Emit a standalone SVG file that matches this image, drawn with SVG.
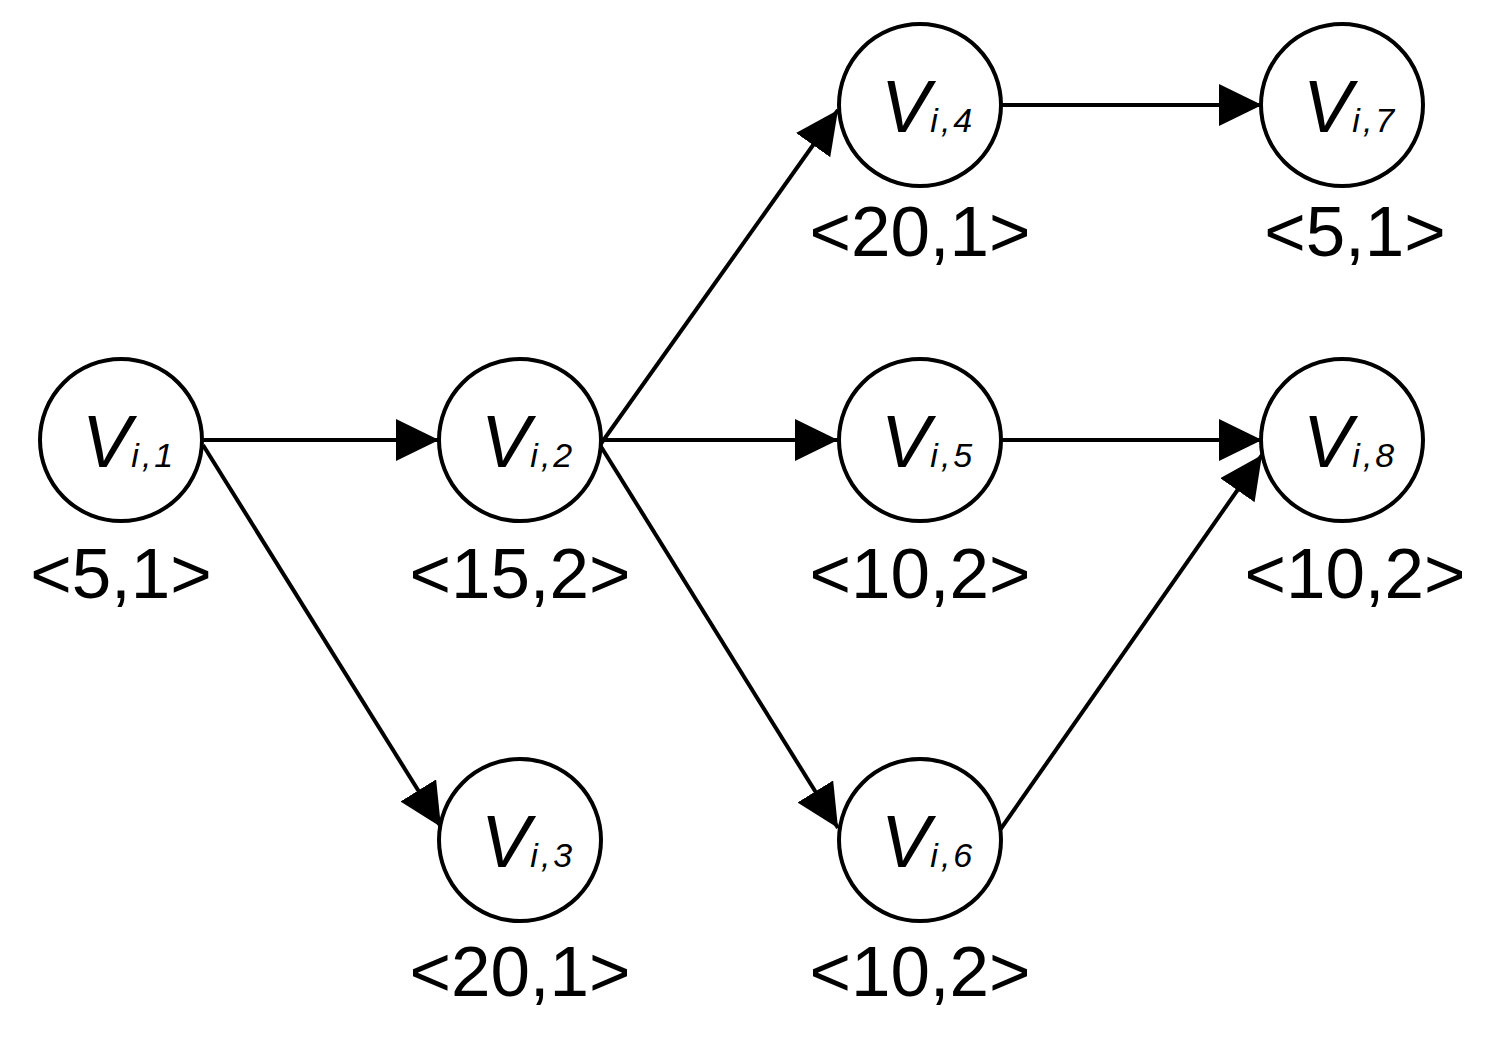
<svg xmlns="http://www.w3.org/2000/svg" width="1492" height="1049" viewBox="0 0 1492 1049">
<style>
circle{fill:#fff;stroke:#000;stroke-width:4}
.v{font-family:"Liberation Sans",Arial,sans-serif;font-style:italic;font-size:74px}
.s{font-size:34px;letter-spacing:3px}
.l{font-family:"Liberation Sans",Arial,sans-serif;font-size:71px;text-anchor:middle}
.e line{stroke:#000;stroke-width:4}
</style>
<defs><marker id="a" markerUnits="userSpaceOnUse" markerWidth="44" markerHeight="44" refX="43" refY="21" orient="auto"><path d="M0,0L43,21L0,42z"/></marker></defs>
<g class="e">
<line x1="202" y1="440" x2="439" y2="440" marker-end="url(#a)"/>
<line x1="203" y1="445" x2="441" y2="827" marker-end="url(#a)"/>
<line x1="600" y1="445" x2="838" y2="110" marker-end="url(#a)"/>
<line x1="600" y1="440" x2="838" y2="440" marker-end="url(#a)"/>
<line x1="600" y1="445" x2="838" y2="828" marker-end="url(#a)"/>
<line x1="1000" y1="105" x2="1262" y2="105" marker-end="url(#a)"/>
<line x1="1000" y1="440" x2="1262" y2="440" marker-end="url(#a)"/>
<line x1="1000" y1="830" x2="1262" y2="455" marker-end="url(#a)"/>
</g>
<g id="n1"><circle cx="121" cy="440" r="81"/><text class="v" x="82" y="467">V<tspan class="s">i,1</tspan></text><text class="l" x="121" y="598">&lt;5,1&gt;</text></g>
<g id="n2"><circle cx="520" cy="440" r="81"/><text class="v" x="481" y="467">V<tspan class="s">i,2</tspan></text><text class="l" x="520" y="598">&lt;15,2&gt;</text></g>
<g id="n3"><circle cx="520" cy="840" r="81"/><text class="v" x="481" y="867">V<tspan class="s">i,3</tspan></text><text class="l" x="520" y="996">&lt;20,1&gt;</text></g>
<g id="n4"><circle cx="920" cy="105" r="81"/><text class="v" x="881" y="132">V<tspan class="s">i,4</tspan></text><text class="l" x="920" y="256">&lt;20,1&gt;</text></g>
<g id="n5"><circle cx="920" cy="440" r="81"/><text class="v" x="881" y="467">V<tspan class="s">i,5</tspan></text><text class="l" x="920" y="598">&lt;10,2&gt;</text></g>
<g id="n6"><circle cx="920" cy="840" r="81"/><text class="v" x="881" y="867">V<tspan class="s">i,6</tspan></text><text class="l" x="920" y="996">&lt;10,2&gt;</text></g>
<g id="n7"><circle cx="1342" cy="105" r="81"/><text class="v" x="1303" y="132">V<tspan class="s">i,7</tspan></text><text class="l" x="1355" y="256">&lt;5,1&gt;</text></g>
<g id="n8"><circle cx="1342" cy="440" r="81"/><text class="v" x="1303" y="467">V<tspan class="s">i,8</tspan></text><text class="l" x="1355" y="598">&lt;10,2&gt;</text></g>
</svg>
